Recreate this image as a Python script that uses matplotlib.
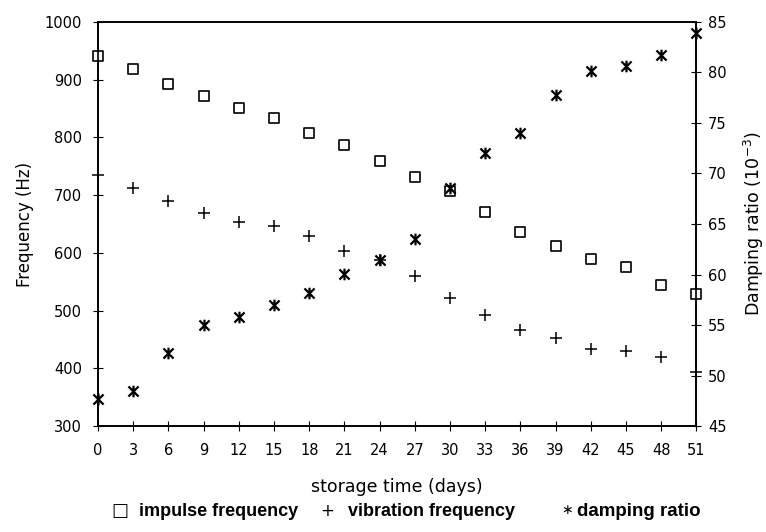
import matplotlib
matplotlib.use("Agg")
import matplotlib.pyplot as plt
from matplotlib.path import Path

plt.rcParams['font.family'] = ['DejaVu Sans']

# storage time (days)
jours = [0, 3, 6, 9, 12, 15, 18, 21, 24, 27, 30, 33, 36, 39, 42, 45, 48, 51]

# impulse frequency (Hz)
impulse = [940, 918, 893, 872, 850, 834, 808, 786, 759, 731, 707, 671,
           636, 611, 590, 576, 545, 528]

# vibration frequency (Hz)
vibration = [734, 713, 690, 669, 654, 646, 630, 603, 587, 560, 521, 493,
             466, 453, 433, 430, 420, 394]

# damping ratio (10^-3)
amortissement = [47.7, 48.5, 52.2, 55.0, 55.8, 57.0, 58.2, 60.1, 61.4, 63.5,
                 68.6, 72.0, 74.0, 77.8, 80.1, 80.6, 81.7, 83.9]

# marqueur asterisque : X + trait vertical
etoile = Path([(-1, -1), (1, 1), (-1, 1), (1, -1), (0, -1.15), (0, 1.15)],
              [Path.MOVETO, Path.LINETO, Path.MOVETO, Path.LINETO,
               Path.MOVETO, Path.LINETO])

fig = plt.figure(figsize=(7.66, 5.32), dpi=100)
ax = fig.add_axes([0.128, 0.199, 0.781, 0.760])
ax2 = ax.twinx()

ax.scatter(jours, impulse, marker='s', s=52, facecolors='white',
           edgecolors='black', linewidths=1.2, zorder=3, clip_on=False)
ax.scatter(jours, vibration, marker='+', s=75, color='black',
           linewidths=1.1, zorder=3, clip_on=False)
ax2.scatter(jours, amortissement, marker=etoile, s=70, color='black',
            linewidths=1.6, zorder=3, clip_on=False)

ax.set_xlim(0, 51)
ax.set_ylim(300, 1000)
ax2.set_ylim(45, 85)
ax.set_xticks(jours)
ax.set_yticks(range(300, 1001, 100))
ax2.set_yticks(range(45, 86, 5))

for a in (ax, ax2):
    a.tick_params(direction='inout', length=7, width=0.8, labelsize=10.5)
    for s in a.spines.values():
        s.set_linewidth(1.2)
ax.tick_params(axis='x', pad=9)
ax.tick_params(axis='y', pad=8)
ax2.tick_params(axis='y', pad=5)

ax.set_xlabel("storage time (days)", fontsize=12.5, labelpad=14)
ax.set_ylabel("Frequency (Hz)", fontsize=12, labelpad=8)
ax2.set_ylabel("Damping ratio (10$^{-3}$)", fontsize=12.5, labelpad=11)

# legende sous le graphique
y_leg = 0.030
gras = ['Liberation Sans', 'DejaVu Sans']
fig.text(0.146, y_leg, "\u25a1", fontsize=13, ha='left', va='baseline')
fig.text(0.1815, y_leg, "impulse frequency", fontsize=13, fontweight='bold',
         ha='left', va='baseline', family=gras)
fig.text(0.418, y_leg, "+", fontsize=12, ha='left', va='baseline')
fig.text(0.454, y_leg, "vibration frequency", fontsize=13, fontweight='bold',
         ha='left', va='baseline', family=gras)
fig.text(0.733, 0.034, "\u2217", fontsize=10, ha='left', va='baseline')
fig.text(0.753, y_leg, "damping ratio", fontsize=13.5, fontweight='bold',
         ha='left', va='baseline', family=gras)

fig.savefig("out.png", dpi=100)
